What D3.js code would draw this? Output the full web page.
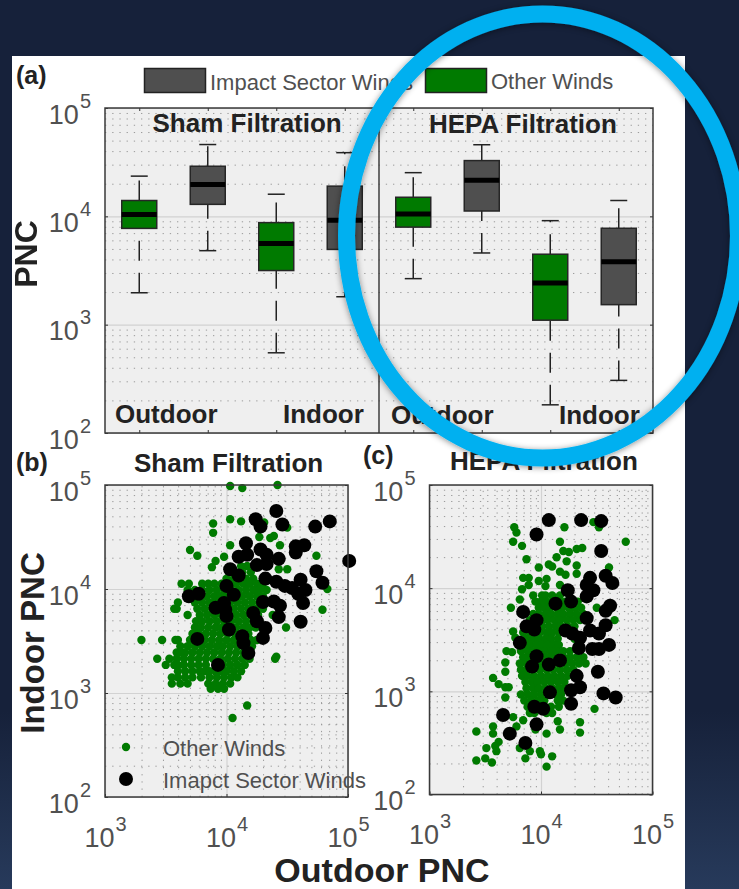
<!DOCTYPE html>
<html>
<head>
<meta charset="utf-8">
<script src="https://cdn.jsdelivr.net/npm/d3@7"></script>
<style>
  html, body { margin: 0; padding: 0; background: #16213a; }
  svg { display: block; }
  text { font-family: 'Liberation Sans', Arial, sans-serif; }
</style>
</head>
<body>
<svg id="chart" width="739" height="889"></svg>
<script>
// panel (a) boxes, PNC
const boxNames = ['Sham Outdoor Other', 'Sham Outdoor Impact', 'Sham Indoor Other', 'Sham Indoor Impact',
                  'HEPA Outdoor Other', 'HEPA Outdoor Impact', 'HEPA Indoor Other', 'HEPA Indoor Impact'];
const boxKinds = ['other', 'impact', 'other', 'impact', 'other', 'impact', 'other', 'impact'];
const whiskerLow = [1970, 4820, 550, 1810, 2660, 4590, 182, 306];
const quartile1 = [7740, 12900, 3160, 4950, 7950, 11200, 1100, 1530];
const medians = [10400, 19700, 5600, 9180, 10500, 21500, 2420, 3800];
const quartile3 = [14000, 29000, 8750, 19000, 15000, 32700, 4470, 7760];
const whiskerHigh = [23500, 46000, 16000, 38700, 25300, 45800, 9120, 14000];

const decadeTicks = [100, 1000, 10000, 100000];
const xDecadeTicks = [1000, 10000, 100000];

// scatter values are log10(PNC), [outdoor, indoor]
// the dense clouds are written as rows: [indoor, [outdoor, outdoor, ...]]
const shamOtherRows = [
  [4.22, [4.12, 4.17]],
  [4.16, [4.08, 4.13, 4.20]],
  [4.10, [4.00, 4.06, 4.11, 4.16, 4.22]],
  [4.05, [3.63, 3.69, 3.80, 3.85, 3.90, 3.96, 4.02, 4.08, 4.14, 4.19, 4.25, 4.30]],
  [3.99, [3.68, 3.74, 3.80, 3.86, 3.92, 3.98, 4.04, 4.10, 4.16, 4.22, 4.27, 4.33]],
  [3.93, [3.70, 3.78, 3.84, 3.90, 3.95, 4.01, 4.07, 4.13, 4.19, 4.25, 4.30]],
  [3.87, [3.60, 3.74, 3.80, 3.86, 3.91, 3.97, 4.03, 4.09, 4.15, 4.21, 4.27, 4.33]],
  [3.81, [3.57, 3.59, 3.76, 3.82, 3.88, 3.94, 4.00, 4.06, 4.12, 4.18, 4.24, 4.30]],
  [3.75, [3.68, 3.78, 3.84, 3.90, 3.96, 4.02, 4.08, 4.14, 4.20, 4.26, 4.38]],
  [3.69, [3.75, 3.80, 3.86, 3.92, 3.98, 4.04, 4.10, 4.16, 4.22, 4.27]],
  [3.63, [3.74, 3.79, 3.85, 3.91, 3.96, 4.02, 4.08, 4.14, 4.19, 4.24]],
  [3.57, [3.72, 3.77, 3.83, 3.89, 3.95, 4.01, 4.07, 4.13, 4.18]],
  [3.51, [3.30, 3.47, 3.58, 3.60, 3.70, 3.76, 3.82, 3.88, 3.94, 4.00, 4.06, 4.12, 4.20, 4.25]],
  [3.45, [3.62, 3.68, 3.74, 3.80, 3.86, 3.92, 3.97, 4.03, 4.09, 4.15, 4.21]],
  [3.39, [3.59, 3.62, 3.66, 3.72, 3.78, 3.84, 3.90, 3.96, 4.02, 4.08, 4.14, 4.19]],
  [3.33, [3.43, 3.53, 3.59, 3.65, 3.71, 3.77, 3.83, 3.89, 3.95, 4.01, 4.07, 4.13, 4.19, 4.40]],
  [3.27, [3.50, 3.57, 3.60, 3.65, 3.71, 3.77, 3.83, 3.91, 3.97, 4.03, 4.09, 4.15]],
  [3.21, [3.60, 3.66, 3.72, 3.78, 3.82, 3.86, 3.91, 3.95, 4.00, 4.06, 4.12]],
  [3.15, [3.55, 3.60, 3.66, 3.72, 3.79, 3.86, 3.92, 3.98, 4.04, 4.09]],
  [3.09, [3.55, 3.62, 3.68, 3.85, 3.91, 3.97, 4.03]],
  [3.04, [3.87, 3.93, 3.98]]
];
const shamOtherLoose = [
  [4.03, 4.99], [4.13, 4.97], [4.42, 5.00], [3.89, 4.63], [3.89, 4.54], [4.03, 4.67], [4.12, 4.65],
  [4.31, 4.64], [4.50, 4.59], [4.27, 4.50], [4.36, 4.49], [4.39, 4.51], [4.03, 4.42], [3.70, 4.375],
  [3.76, 4.32], [4.44, 4.42], [4.74, 4.32], [3.91, 4.27], [3.88, 4.21], [3.98, 4.31], [4.17, 4.22],
  [4.43, 4.19], [4.50, 4.19], [4.83, 4.00], [4.79, 3.80], [4.49, 3.63], [4.41, 3.35], [4.17, 2.88],
  [4.05, 2.76]
];
const shamImpact = [
  [4.41, 4.75], [4.24, 4.67], [4.28, 4.60], [4.46, 4.62], [4.73, 4.60], [4.85, 4.65], [5.01, 4.27],
  [4.16, 4.44], [4.57, 4.41], [4.64, 4.42], [4.57, 4.35], [4.28, 4.38], [4.10, 4.31], [4.17, 4.33],
  [4.33, 4.33], [4.43, 4.29], [4.25, 4.23], [4.33, 4.24], [4.03, 4.19], [4.10, 4.13], [4.74, 4.17],
  [4.79, 4.06], [4.32, 4.10], [4.41, 4.07], [4.48, 4.03], [4.54, 4.01], [4.61, 4.09], [4.65, 3.99],
  [4.59, 3.955], [4.63, 3.865], [4.00, 4.03], [4.06, 3.945], [3.69, 3.93], [3.77, 3.955], [3.91, 3.82],
  [3.98, 3.865], [4.30, 3.875], [4.39, 3.88], [4.44, 3.84], [4.43, 3.73], [4.61, 3.685], [4.00, 3.74],
  [4.02, 3.61], [4.22, 3.77], [4.25, 3.69], [4.32, 3.625], [4.30, 3.53], [4.13, 3.545], [4.14, 3.48],
  [4.18, 3.385], [3.76, 3.52], [3.93, 3.27], [3.99, 3.80]
];
const hepaOtherRows = [
  [3.93, [3.93, 4.01, 4.04, 4.10, 4.17]],
  [3.87, [3.95, 4.00, 4.05, 4.10, 4.17, 4.22, 4.33]],
  [3.81, [3.98, 4.03, 4.08, 4.14, 4.19, 4.25, 4.30, 4.36, 4.50]],
  [3.75, [3.93, 3.98, 4.04, 4.09, 4.15, 4.20, 4.26, 4.32, 4.38]],
  [3.69, [3.90, 4.01, 4.06, 4.12, 4.17, 4.23, 4.29, 4.35]],
  [3.63, [3.90, 3.96, 4.01, 4.07, 4.13, 4.18, 4.24, 4.30]],
  [3.57, [3.84, 3.90, 3.95, 3.99, 4.05, 4.10, 4.16]],
  [3.51, [3.87, 3.93, 3.98, 4.04, 4.09, 4.15, 4.30]],
  [3.45, [3.85, 3.90, 3.96, 4.01, 4.06, 4.11, 4.16]],
  [3.39, [3.82, 3.88, 3.93, 3.98, 4.03, 4.09, 4.14, 4.20, 4.26]],
  [3.33, [3.84, 3.89, 3.92, 4.01, 4.06, 4.12, 4.20, 4.26, 4.32, 4.38]],
  [3.27, [3.81, 3.87, 3.93, 3.99, 4.05, 4.10, 4.16, 4.22, 4.28, 4.34, 4.40]],
  [3.21, [3.82, 3.87, 3.93, 3.99, 4.05, 4.11, 4.17, 4.23, 4.29]],
  [3.15, [3.83, 3.88, 3.94, 4.00, 4.06, 4.12, 4.18, 4.24]],
  [3.09, [3.86, 3.92, 3.97, 4.03, 4.09, 4.15, 4.21]],
  [3.03, [3.87, 3.93, 3.98, 4.04, 4.10, 4.16, 4.20]],
  [2.97, [3.82, 3.88, 3.94, 4.00, 4.14, 4.18]],
  [2.91, [3.85, 3.91, 3.97, 4.03, 4.15, 4.20]],
  [2.85, [3.88, 3.98, 4.09, 4.16]],
  [2.79, [3.90, 3.94, 4.05, 4.10]]
];
const hepaOtherLoose = [
  [3.76, 4.59], [3.78, 4.54], [3.75, 4.45], [3.83, 4.41], [4.21, 4.59], [4.47, 4.64], [4.52, 4.59],
  [4.17, 4.45], [4.76, 4.45], [4.37, 4.39], [4.32, 4.38], [4.20, 4.36], [4.25, 4.35], [4.14, 4.30],
  [4.23, 4.26], [3.87, 4.28], [3.98, 4.20], [4.07, 4.23], [4.10, 4.21], [4.32, 4.22], [4.61, 4.20],
  [4.17, 4.16], [4.22, 4.13], [4.32, 4.14], [3.84, 4.10], [3.89, 4.10], [3.89, 4.03], [3.98, 4.07],
  [4.05, 4.09], [4.04, 4.02], [3.83, 3.99], [4.17, 4.03], [3.81, 3.89], [3.73, 3.81], [4.66, 3.69],
  [3.75, 3.58], [3.77, 3.52], [3.69, 3.39], [3.74, 3.38], [3.68, 3.28], [3.68, 3.19], [3.57, 3.13],
  [3.62, 3.07], [3.68, 3.04], [3.71, 3.04], [3.68, 2.94], [4.48, 2.83], [4.35, 2.70], [4.35, 2.60],
  [4.15, 2.71], [4.17, 2.63], [3.42, 2.61], [3.57, 2.66], [3.57, 2.59], [3.75, 2.75], [3.78, 2.66],
  [3.84, 2.72], [3.62, 2.51], [3.59, 2.47], [3.51, 2.45], [3.42, 2.33], [3.50, 2.35], [3.56, 2.31],
  [3.60, 2.42], [3.81, 2.45], [3.90, 2.42], [3.86, 2.35], [3.99, 2.42], [4.00, 2.39], [4.10, 2.37],
  [4.05, 2.27], [3.95, 2.63], [4.05, 2.59]
];
const hepaImpact = [
  [4.07, 4.66], [4.36, 4.66], [4.54, 4.65], [3.96, 4.52], [4.54, 4.36], [4.44, 4.10], [4.58, 4.12],
  [4.64, 4.05], [4.41, 4.03], [4.47, 3.98], [4.41, 3.92], [4.24, 3.98], [4.27, 3.87], [4.13, 3.85],
  [4.62, 3.83], [4.58, 3.78], [3.84, 3.77], [3.96, 3.69], [3.87, 3.63], [3.94, 3.60], [4.41, 3.71],
  [4.58, 3.64], [4.44, 3.59], [4.22, 3.59], [4.28, 3.56], [4.35, 3.52], [4.52, 3.56], [4.34, 3.42],
  [3.81, 3.47], [4.46, 3.41], [4.52, 3.41], [4.61, 3.45], [3.96, 3.34], [3.92, 3.24], [4.07, 3.26],
  [4.17, 3.30], [4.51, 3.19], [4.32, 3.15], [4.35, 3.04], [4.27, 3.01], [4.27, 2.88], [4.08, 2.99],
  [4.56, 2.98], [4.67, 2.94], [3.94, 2.85], [4.02, 2.83], [3.66, 2.77], [3.96, 2.68], [3.72, 2.59],
  [3.86, 2.50]
];

const GREEN = '#007a00';
const GRAY = '#4f4f4f';
const TEXT_GRAY = '#505050';
const INK = '#222';
const R_OTHER = 4.2, R_IMPACT = 7;

function rowsToPoints(rows){
  return rows.flatMap(r => r[1].map(v => [v, r[0]]));
}

// minor log grid: 2..9 within each decade
function minorTicks(lo, hi){
  const out = [];
  for (let d = lo; d < hi; d *= 10){
    for (let m = 2; m < 10; m++) out.push(d * m);
  }
  return out;
}

const svg = d3.select('#chart');
const defs = svg.append('defs');

const bg = defs.append('linearGradient').attr('id', 'bg').attr('x1', 0).attr('x2', 0).attr('y1', 0).attr('y2', 1);
bg.append('stop').attr('offset', '0.8').attr('stop-color', '#16213a');
bg.append('stop').attr('offset', '1').attr('stop-color', '#273a5b');

const shadow = defs.append('filter').attr('id', 'ringShadow')
  .attr('x', '-10%').attr('y', '-10%').attr('width', '120%').attr('height', '120%');
shadow.append('feDropShadow').attr('dx', 0).attr('dy', 1).attr('stdDeviation', 3)
  .attr('flood-color', '#000').attr('flood-opacity', 0.45);

svg.append('rect').attr('width', 739).attr('height', 889).attr('fill', 'url(#bg)');

// everything on the slide image is a bit soft, the ring on top is not
const page = svg.append('g').style('filter', 'blur(0.7px)');
page.append('rect').attr('x', 12).attr('y', 56).attr('width', 673).attr('height', 833).attr('fill', '#fff');

function label(parent, str, x, y, size, weight, color){
  return parent.append('text').attr('x', x).attr('y', y).text(str)
    .attr('font-size', size).attr('font-weight', weight || 'normal').attr('fill', color || INK);
}

// turn axis tick labels into 10 + superscript
function powerLabels(axisG, dy){
  axisG.selectAll('.tick text').each(function(d){
    const t = d3.select(this);
    t.text(null).attr('dy', dy).attr('font-size', 27).attr('fill', TEXT_GRAY);
    t.append('tspan').text('10');
    t.append('tspan').text(Math.round(Math.log10(d))).attr('font-size', 20).attr('dy', -16).attr('dx', 1);
  });
}

function yGrid(g, y, left, w, lo, hi){
  g.append('g').attr('transform', `translate(${left},0)`)
    .call(d3.axisLeft(y).tickValues(minorTicks(lo, hi)).tickSize(-w).tickFormat(''))
    .call(a => a.select('.domain').remove())
    .call(a => a.selectAll('line').attr('stroke', '#9a9a9a').attr('stroke-width', 1).attr('stroke-dasharray', '1.3 5.9'));
  g.append('g').attr('transform', `translate(${left},0)`)
    .call(d3.axisLeft(y).tickValues(decadeTicks).tickSize(-w).tickFormat(''))
    .call(a => a.select('.domain').remove())
    .call(a => a.selectAll('line').attr('stroke', '#d2d2d2').attr('stroke-width', 1.2));
}

function yLabels(g, y, left, w){
  const a = g.append('g').attr('transform', `translate(${left},0)`)
    .call(d3.axisLeft(y).tickValues(decadeTicks).tickSize(-3).tickPadding(14).tickFormat(d => d));
  a.select('.domain').remove();
  a.selectAll('line').attr('stroke', '#333');
  powerLabels(a, 15);
  g.append('g').attr('transform', `translate(${left + w},0)`)
    .call(d3.axisRight(y).tickValues(decadeTicks).tickSize(-3).tickFormat(''))
    .call(s => s.select('.domain').remove())
    .call(s => s.selectAll('line').attr('stroke', '#333'));
}

function frame(g, x0, y0, w, h){
  g.append('rect').attr('x', x0).attr('y', y0).attr('width', w).attr('height', h)
    .attr('fill', 'none').attr('stroke', '#3a3a3a').attr('stroke-width', 1.5);
}

// ---- panel (a)
function drawBoxPanel(){
  const g = page.append('g');
  const left = 105, right = 653, top = 108, bottom = 433;
  const w = right - left;
  const positions = boxNames.map((d, i) => i + 1);
  const x = d3.scaleLinear().domain([0.5, 8.5]).range([left, right]);
  const y = d3.scaleLog().domain([100, 100000]).range([bottom, top]);
  const boxW = 35, capW = 17;

  g.append('rect').attr('x', left).attr('y', top).attr('width', w).attr('height', bottom - top).attr('fill', '#efefef');
  yGrid(g, y, left, w, 100, 100000);

  const marks = g.selectAll('g.box').data(positions).enter().append('g').attr('class', 'box');

  // whiskers are stroked upwards, that is where the dash pattern starts in the original
  marks.append('line')
    .attr('x1', d => x(d)).attr('x2', d => x(d))
    .attr('y1', (d, i) => y(whiskerLow[i])).attr('y2', (d, i) => y(quartile1[i]))
    .attr('stroke', INK).attr('stroke-width', 1.5).attr('stroke-dasharray', '20 12');
  marks.append('line')
    .attr('x1', d => x(d)).attr('x2', d => x(d))
    .attr('y1', (d, i) => y(quartile3[i])).attr('y2', (d, i) => y(whiskerHigh[i]))
    .attr('stroke', INK).attr('stroke-width', 1.5).attr('stroke-dasharray', '20 12');
  [whiskerLow, whiskerHigh].forEach(arr => {
    marks.append('line')
      .attr('x1', d => x(d) - capW / 2).attr('x2', d => x(d) + capW / 2)
      .attr('y1', (d, i) => y(arr[i])).attr('y2', (d, i) => y(arr[i]))
      .attr('stroke', INK).attr('stroke-width', 1.5);
  });
  marks.append('rect')
    .attr('x', d => x(d) - boxW / 2).attr('width', boxW)
    .attr('y', (d, i) => y(quartile3[i]))
    .attr('height', (d, i) => y(quartile1[i]) - y(quartile3[i]))
    .attr('fill', (d, i) => boxKinds[i] === 'other' ? GREEN : GRAY)
    .attr('stroke', '#262626').attr('stroke-width', 1.5);
  marks.append('line')
    .attr('x1', d => x(d) - boxW / 2).attr('x2', d => x(d) + boxW / 2)
    .attr('y1', (d, i) => y(medians[i])).attr('y2', (d, i) => y(medians[i]))
    .attr('stroke', '#000').attr('stroke-width', 5);

  yLabels(g, y, left, w);
  g.append('g').attr('transform', `translate(0,${bottom})`)
    .call(d3.axisBottom(x).tickValues(positions).tickSize(-3).tickFormat(''))
    .call(s => s.select('.domain').remove())
    .call(s => s.selectAll('line').attr('stroke', '#333'));
  g.append('g').attr('transform', `translate(0,${top})`)
    .call(d3.axisTop(x).tickValues(positions).tickSize(-3).tickFormat(''))
    .call(s => s.select('.domain').remove())
    .call(s => s.selectAll('line').attr('stroke', '#333'));
  frame(g, left, top, w, bottom - top);
  g.append('line').attr('x1', x(4.5)).attr('x2', x(4.5)).attr('y1', top).attr('y2', bottom)
    .attr('stroke', '#333').attr('stroke-width', 1.4);

  label(g, 'Sham Filtration', 152.5, 132, 26, 'bold');
  label(g, 'HEPA Filtration', 429, 133, 26, 'bold');
  label(g, 'Outdoor', 115, 423, 26, 'bold');
  label(g, 'Indoor', 283, 423, 26, 'bold');
  label(g, 'Outdoor', 391, 424, 26, 'bold');
  label(g, 'Indoor', 559, 424, 26, 'bold');

  label(g, '(a)', 16, 84, 25, 'bold');
  label(g, 'PNC', 0, 0, 32, 'bold').attr('x', null).attr('y', null)
    .attr('text-anchor', 'middle').attr('transform', 'translate(37,254) rotate(-90)');

  // legend
  g.append('rect').attr('x', 144.5).attr('y', 68.5).attr('width', 61).attr('height', 24)
    .attr('fill', GRAY).attr('stroke', '#222').attr('stroke-width', 1.5);
  label(g, 'Impact Sector Winds', 210, 90, 22, 'normal', TEXT_GRAY);
  g.append('rect').attr('x', 425.5).attr('y', 68.5).attr('width', 61).attr('height', 24)
    .attr('fill', GREEN).attr('stroke', '#222').attr('stroke-width', 1.5);
  label(g, 'Other Winds', 491, 89, 22, 'normal', TEXT_GRAY);
}

// ---- panels (b) and (c)
function drawScatter(opts){
  const g = page.append('g');
  const w = opts.right - opts.left, h = opts.bottom - opts.top;
  const x = d3.scaleLog().domain([1000, 100000]).range([opts.left, opts.right]);
  const y = d3.scaleLog().domain([100, 100000]).range([opts.bottom, opts.top]);

  g.append('rect').attr('x', opts.left).attr('y', opts.top).attr('width', w).attr('height', h).attr('fill', '#efefef');

  g.append('g').attr('transform', `translate(0,${opts.bottom})`)
    .call(d3.axisBottom(x).tickValues(minorTicks(1000, 100000)).tickSize(-h).tickFormat(''))
    .call(a => a.select('.domain').remove())
    .call(a => a.selectAll('line').attr('stroke', '#9a9a9a').attr('stroke-dasharray', '1.3 5.9'));
  g.append('g').attr('transform', `translate(0,${opts.bottom})`)
    .call(d3.axisBottom(x).tickValues(xDecadeTicks).tickSize(-h).tickFormat(''))
    .call(a => a.select('.domain').remove())
    .call(a => a.selectAll('line').attr('stroke', '#d2d2d2').attr('stroke-width', 1.2));
  yGrid(g, y, opts.left, w, 100, 100000);

  g.append('g').selectAll('circle').data(opts.other).enter().append('circle')
    .attr('cx', d => x(Math.pow(10, d[0]))).attr('cy', d => y(Math.pow(10, d[1])))
    .attr('r', R_OTHER).attr('fill', GREEN);
  g.append('g').selectAll('circle').data(opts.impact).enter().append('circle')
    .attr('cx', d => x(Math.pow(10, d[0]))).attr('cy', d => y(Math.pow(10, d[1])))
    .attr('r', R_IMPACT).attr('fill', '#000');

  yLabels(g, y, opts.left, w);
  const xa = g.append('g').attr('transform', `translate(0,${opts.bottom})`)
    .call(d3.axisBottom(x).tickValues(xDecadeTicks).tickSize(-3).tickPadding(0).tickFormat(d => d));
  xa.select('.domain').remove();
  xa.selectAll('line').attr('stroke', '#333');
  xa.selectAll('.tick text').attr('y', opts.xLabelDrop);
  powerLabels(xa, 0);
  frame(g, opts.left, opts.top, w, h);

  label(g, opts.title, opts.titleX, opts.titleY, 26, 'bold');
  label(g, opts.tag, opts.tagX, opts.tagY, 25, 'bold');
  return {g, x, y};
}

drawBoxPanel();

const sham = drawScatter({
  left: 105, right: 348, top: 485, bottom: 797,
  other: rowsToPoints(shamOtherRows).concat(shamOtherLoose), impact: shamImpact,
  title: 'Sham Filtration', titleX: 134, titleY: 472,
  tag: '(b)', tagX: 16, tagY: 471, xLabelDrop: 50
});
const hepa = drawScatter({
  left: 429.5, right: 652.5, top: 485, bottom: 794.5,
  other: rowsToPoints(hepaOtherRows).concat(hepaOtherLoose), impact: hepaImpact,
  title: 'HEPA Filtration', titleX: 450, titleY: 470,
  tag: '(c)', tagX: 363, tagY: 464, xLabelDrop: 49
});

// scatter legend sits inside panel (b) and runs past its edge
sham.g.append('circle').attr('cx', 126).attr('cy', 747).attr('r', R_OTHER).attr('fill', GREEN);
sham.g.append('circle').attr('cx', 126).attr('cy', 779).attr('r', R_IMPACT).attr('fill', '#000');
label(sham.g, 'Other Winds', 163, 756, 22, 'normal', TEXT_GRAY);
label(sham.g, 'Imapct Sector Winds', 163, 788, 22, 'normal', TEXT_GRAY);

label(page, 'Indoor PNC', 0, 0, 33, 'bold').attr('x', null).attr('y', null)
  .attr('text-anchor', 'middle').attr('transform', 'translate(44,643) rotate(-90)');
label(page, 'Outdoor PNC', 382, 882, 34, 'bold').attr('text-anchor', 'middle');

// ring drawn over the slide
svg.append('ellipse').attr('cx', 542.5).attr('cy', 236).attr('rx', 196).attr('ry', 222)
  .attr('fill', 'none').attr('stroke', '#00b0f0').attr('stroke-width', 17)
  .attr('filter', 'url(#ringShadow)');
</script>
</body>
</html>
